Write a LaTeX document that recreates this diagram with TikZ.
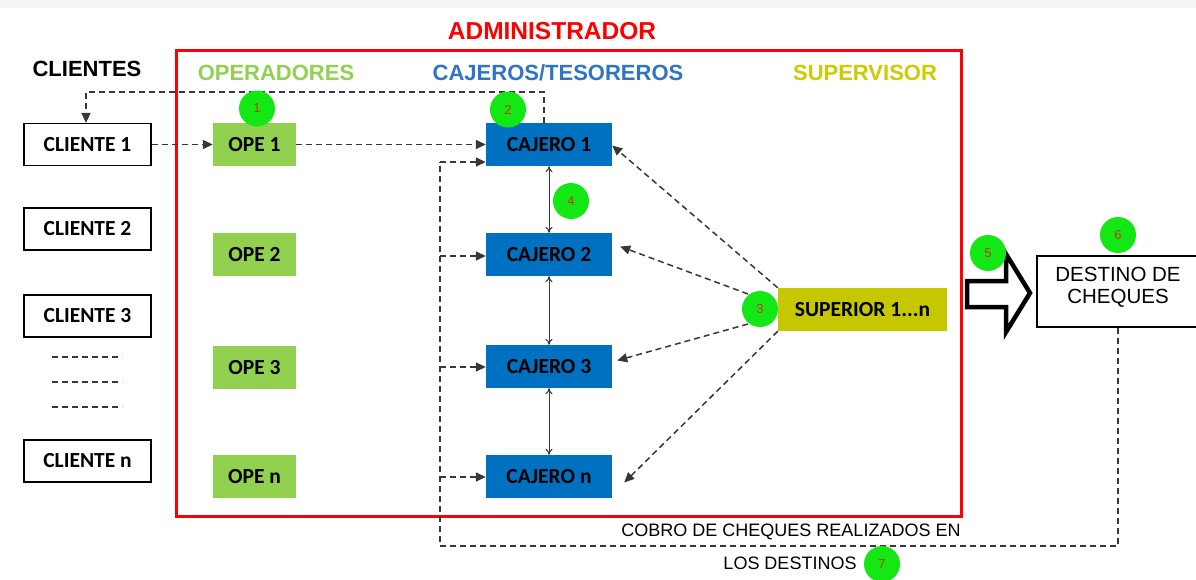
\documentclass[tikz,border=0pt]{standalone}
\usepackage{fontspec}
\setmainfont{Liberation Sans}
\newfontfamily\boxfont{Carlito}
\usetikzlibrary{arrows.meta}
\definecolor{admred}{RGB}{255,0,0}
\definecolor{opegreen}{RGB}{146,208,80}
\definecolor{cajblue}{RGB}{0,112,192}
\definecolor{hdrblue}{RGB}{46,117,200}
\definecolor{supyel}{RGB}{199,199,0}
\definecolor{hdryel}{RGB}{204,204,0}
\definecolor{circgreen}{RGB}{20,232,20}
\definecolor{numred}{RGB}{190,60,20}
\definecolor{dashgray}{RGB}{55,55,55}
\definecolor{topband}{RGB}{242,244,246}
\begin{document}
\begin{tikzpicture}[x=1pt,y=-1pt,
  hdr/.style={font=\fontsize{22}{26}\selectfont\bfseries},
  lbl/.style={font=\boxfont\fontsize{21.5}{24}\selectfont\bfseries},
  clibox/.style={lbl,draw=black,line width=1.2pt,fill=white,minimum width=127pt,minimum height=42pt,inner sep=0pt},
  opebox/.style={lbl,fill=opegreen,minimum width=83pt,minimum height=43pt,inner sep=0pt},
  cajbox/.style={lbl,fill=cajblue,minimum width=126pt,minimum height=43pt,inner sep=0pt},
  numc/.style={circle,fill=circgreen,minimum size=36pt,inner sep=0pt,text=numred,font=\fontsize{13}{15}\selectfont},
  dsh/.style={draw=dashgray,line width=1.5pt,dash pattern=on 6pt off 4pt},
  dar/.style={dsh,-{Triangle[length=10pt,width=9pt]}},
  dbl/.style={draw=dashgray,line width=1pt,{To[length=6pt,width=7pt]}-{To[length=6pt,width=7pt]}},
  dots/.style={draw=dashgray,line width=1.3pt,dash pattern=on 6pt off 4pt}
]
\useasboundingbox (0,0) rectangle (1196,579);
\fill[white] (0,0) rectangle (1196,579);
\fill[topband] (0,0) rectangle (1196,8);

% frame
\draw[admred,line width=3pt] (176,50) rectangle (961,516);
\node[font=\fontsize{24.5}{28}\selectfont\bfseries,text=admred] (tadm) at (552,31) {ADMINISTRADOR};
\node[hdr,text=black] (tcli) at (87,69) {CLIENTES};
\node[hdr,text=opegreen] (tope) at (276,73) {OPERADORES};
\node[hdr,text=hdrblue] (tcaj) at (558,73) {CAJEROS/TESOREROS};
\node[hdr,text=hdryel] (tsup) at (865,73) {SUPERVISOR};

% clients
\node[clibox] (cl1) at (87.5,144.5) {CLIENTE 1};
\node[clibox] (cl2) at (87.5,229) {CLIENTE 2};
\node[clibox] (cl3) at (87.5,316) {CLIENTE 3};
\node[clibox] (cln) at (87.5,461) {CLIENTE n};
\coordinate (d1a) at (52,357); \coordinate (d1b) at (122,357);
\coordinate (d2a) at (52,382); \coordinate (d2b) at (122,382);
\coordinate (d3a) at (52,407); \coordinate (d3b) at (122,407);
\draw[dots] (d1a) -- (d1b);
\draw[dots] (d2a) -- (d2b);
\draw[dots] (d3a) -- (d3b);

% operators
\node[opebox] (op1) at (254.5,144.5) {OPE 1};
\node[opebox] (op2) at (254.5,254.5) {OPE 2};
\node[opebox] (op3) at (254.5,367.5) {OPE 3};
\node[opebox] (opn) at (254.5,476.5) {OPE n};

% cashiers
\node[cajbox] (c1) at (549,144.5) {CAJERO 1};
\node[cajbox] (c2) at (549,254.5) {CAJERO 2};
\node[cajbox] (c3) at (549,366.5) {CAJERO 3};
\node[cajbox] (cn) at (549,476.5) {CAJERO n};

% supervisor
\node[lbl,fill=supyel,minimum width=169pt,minimum height=43pt,inner sep=0pt] (sup) at (862.5,309.5) {SUPERIOR 1...n};

% destination
\node[draw=black,line width=1.2pt,fill=white,minimum width=162pt,minimum height=71pt,inner sep=0pt] (dest) at (1118,291.5) {};
\node[align=center,font=\fontsize{20.5}{22}\selectfont] (destt) at (1118,287) {DESTINO DE\\CHEQUES};

% big arrow
\draw[black,line width=4.5pt,fill=white,line join=miter] (967,281) -- (1006,281) -- (1006,254) -- (1030,293) -- (1006,332) -- (1006,307) -- (967,307) -- cycle;

% connectors
\draw[dar] (cl1.east) -- (op1.west);
\draw[dar] (op1.east) -- (c1.west |- op1.east);
\coordinate (top1) at (544,92);
\coordinate (top2) at (86,92);
\draw[dar] (c1.north -| top1) -- (top1) -- (top2) -- (cl1.north -| top2);

% return loop
\coordinate (lp1) at (1118,546);
\coordinate (lp2) at (440,546);
\coordinate (lp3) at (440,162);
\draw[dsh] (dest.south -| lp1) -- (lp1) -- (lp2) -- (lp3);
\draw[dar] (lp3) -- (c1.west |- lp3);
\coordinate (b2) at (440,256);
\coordinate (b3) at (440,367);
\coordinate (bn) at (440,477);
\draw[dar] (b2) -- (c2.west |- b2);
\draw[dar] (b3) -- (c3.west |- b3);
\draw[dar] (bn) -- (cn.west |- bn);

% vertical double arrows
\draw[dbl] (c1.south) -- (c2.north);
\draw[dbl] (c2.south) -- (c3.north);
\draw[dbl] (c3.south) -- (cn.north);

% supervisor arrows
\coordinate (s2) at (748,294);
\coordinate (s3) at (748,324);
\draw[dar] (sup.north west) -- ([yshift=-1pt]c1.east);
\draw[dar] (s2) -- ([xshift=8pt,yshift=8pt]c2.east);
\draw[dar] (s3) -- ([xshift=5pt,yshift=6pt]c3.east);
\draw[dar] (sup.south west) -- ([xshift=12pt,yshift=-6pt]cn.east);

% text
\node[font=\fontsize{18}{20}\selectfont] (cobro1) at (791,532) {COBRO DE CHEQUES REALIZADOS EN};
\node[font=\fontsize{18}{20}\selectfont] (cobro2) at (790,563) {LOS DESTINOS};

% number circles
\node[numc] (n1) at (257,108.5) {1};
\node[numc] (n2) at (508,109.5) {2};
\node[numc] (n4) at (571,201) {4};
\node[numc] (n3) at (760,309) {3};
\node[numc] (n5) at (988,253) {5};
\node[numc] (n6) at (1118,235) {6};
\node[numc] (n7) at (882,564) {7};
\end{tikzpicture}
\end{document}
